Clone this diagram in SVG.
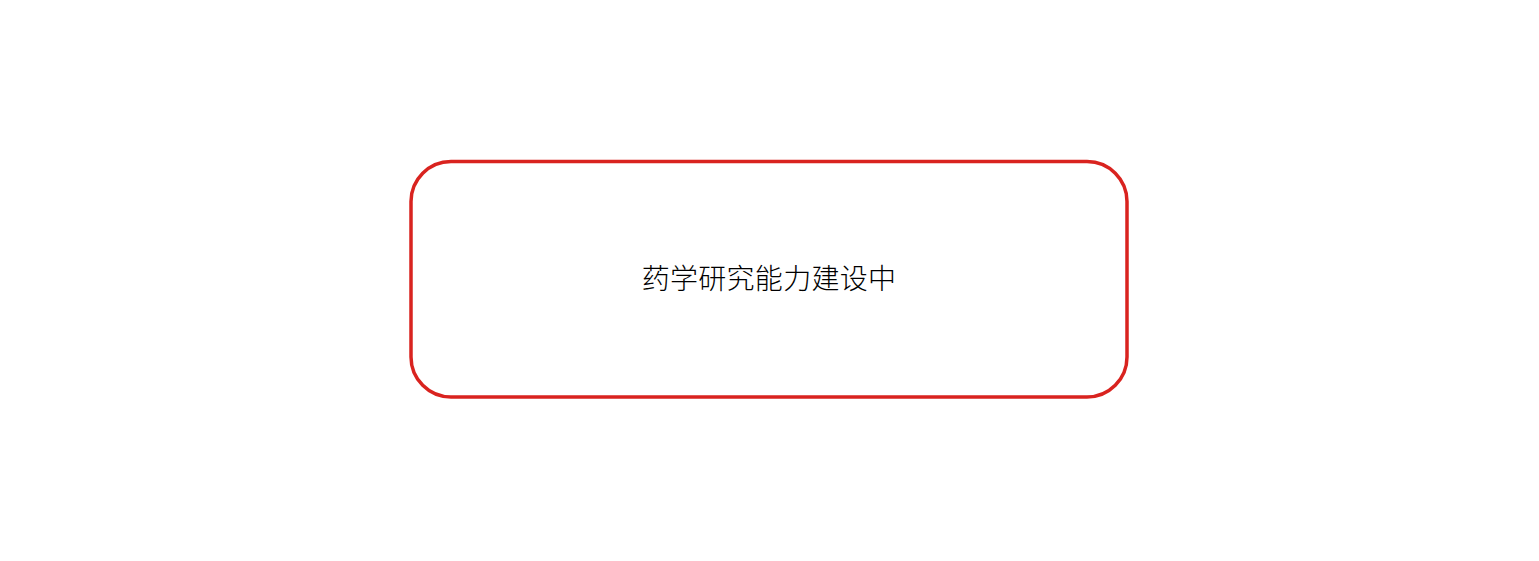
<svg xmlns="http://www.w3.org/2000/svg" width="1539" height="561" viewBox="0 0 1539 561">
<style>
.box{fill:#ffffff;stroke:#d9231f;stroke-width:3.5}
.lbl{font-family:"Noto Sans CJK SC","Liberation Sans",sans-serif;font-size:28px;font-weight:300;letter-spacing:0.3px;fill:#000000;text-anchor:middle}
</style>
<rect width="1539" height="561" fill="#ffffff"/>
<g id="node-main">
<rect class="box" x="411" y="161.5" width="716" height="235.5" rx="40" ry="40"/>
<text class="lbl" x="769" y="289">药学研究能力建设中</text>
</g>
<g id="connectors"></g>
</svg>
